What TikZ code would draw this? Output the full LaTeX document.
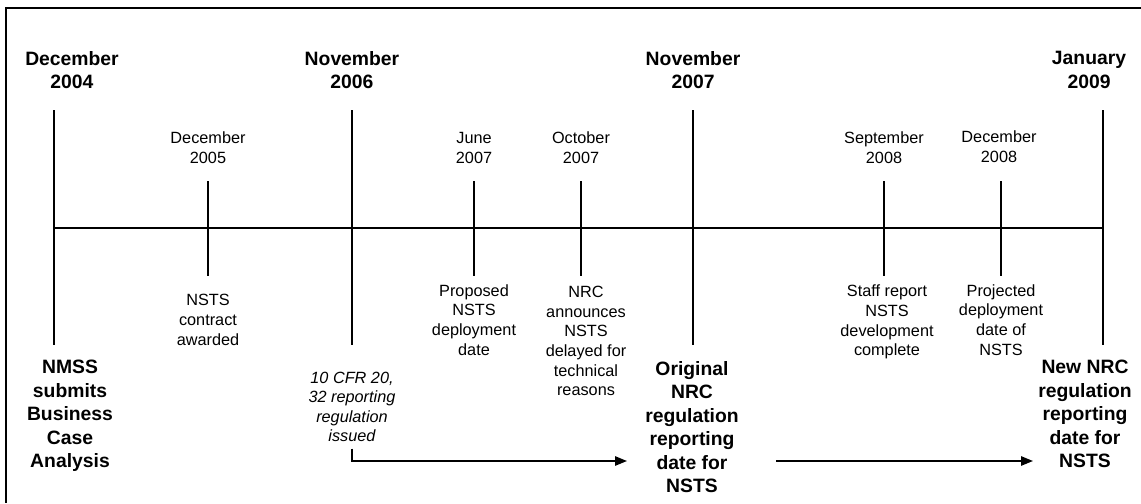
\documentclass[tikz,border=0pt]{standalone}
\usepackage{fontspec}
\setmainfont{Liberation Sans}
\usepackage{tikz}
\usetikzlibrary{positioning,arrows.meta,calc}

\tikzset{
  majorlabel/.style={font=\fontsize{14.5}{17.6}\selectfont\bfseries, align=center, inner sep=0pt},
  minorlabel/.style={font=\fontsize{12.2}{14.8}\selectfont, align=center, inner sep=0pt},
  reglabel/.style={font=\fontsize{12.2}{14.5}\selectfont\itshape, align=center, inner sep=0pt},
  movearrow/.style={line width=1.3pt, -{Triangle[length=9pt,width=7pt]}}
}

\begin{document}
\begin{tikzpicture}[x=0.75pt, y=-0.75pt]
  \useasboundingbox (0,0) rectangle (1141,503);
  % frame
  \draw[line width=2.2pt] (1141,8) -- (6,8) -- (6,503);

  % time line
  \coordinate (tstart) at (54,228);
  \coordinate (tend) at (1103,228);
  \draw[line width=2.2pt] (tstart) -- (tend);
  \foreach \x/\n in {54/a, 352/b, 693/c, 1103/d} {
    \coordinate (major\n top) at (\x,110);
    \coordinate (major\n bot) at (\x,345);
    \draw[line width=2.2pt] (major\n top) -- (major\n bot);
  }
  \foreach \x/\n in {208/a, 474/b, 581/c, 884/d, 1001/e} {
    \coordinate (minor\n top) at (\x,181);
    \coordinate (minor\n bot) at (\x,276);
    \draw[line width=1.3pt] (minor\n top) -- (minor\n bot);
  }

  % dates
  \node[majorlabel] (dec04) at (72,70) {December\\2004};
  \node[majorlabel] (nov06) at (352,70) {November\\2006};
  \node[majorlabel] (nov07) at (693,70) {November\\2007};
  \node[majorlabel] (jan09) at (1089,70) {January\\2009};
  \node[minorlabel] (dec05) at (208,148) {December\\2005};
  \node[minorlabel] (jun07) at (474,148) {June\\2007};
  \node[minorlabel] (oct07) at (581,148) {October\\2007};
  \node[minorlabel] (sep08) at (884,148) {September\\2008};
  \node[minorlabel] (dec08) at (999,147) {December\\2008};

  % events
  \node[majorlabel] (nmss) at (70,416) {NMSS\\submits\\Business\\Case\\Analysis};
  \node[minorlabel] (award) at (208,320) {NSTS\\contract\\awarded};
  \node[reglabel] (cfr) at (352,407) {10 CFR 20,\\32 reporting\\regulation\\issued};
  \node[minorlabel] (propose) at (474,320) {Proposed\\NSTS\\deployment\\date};
  \node[minorlabel] (delay) at (586,341) {NRC\\announces\\NSTS\\delayed for\\technical\\reasons};
  \node[majorlabel] (orig) at (692,427) {Original\\NRC\\regulation\\reporting\\date for\\NSTS};
  \node[minorlabel] (staff) at (887,322) {Staff report\\NSTS\\development\\complete};
  \node[minorlabel] (project) at (1001,320) {Projected\\deployment\\date of\\NSTS};
  \node[majorlabel] (newdate) at (1085,414) {New NRC\\regulation\\reporting\\date for\\NSTS};

  % moves of the reporting date
  \coordinate (firstend) at (627,461);
  \coordinate (secondstart) at (776,461);
  \coordinate (secondend) at (1033,461);
  \draw[movearrow] ([yshift=-5pt]cfr.south) |- (firstend);
  \draw[movearrow] (secondstart) -- (secondend);
\end{tikzpicture}
\end{document}
